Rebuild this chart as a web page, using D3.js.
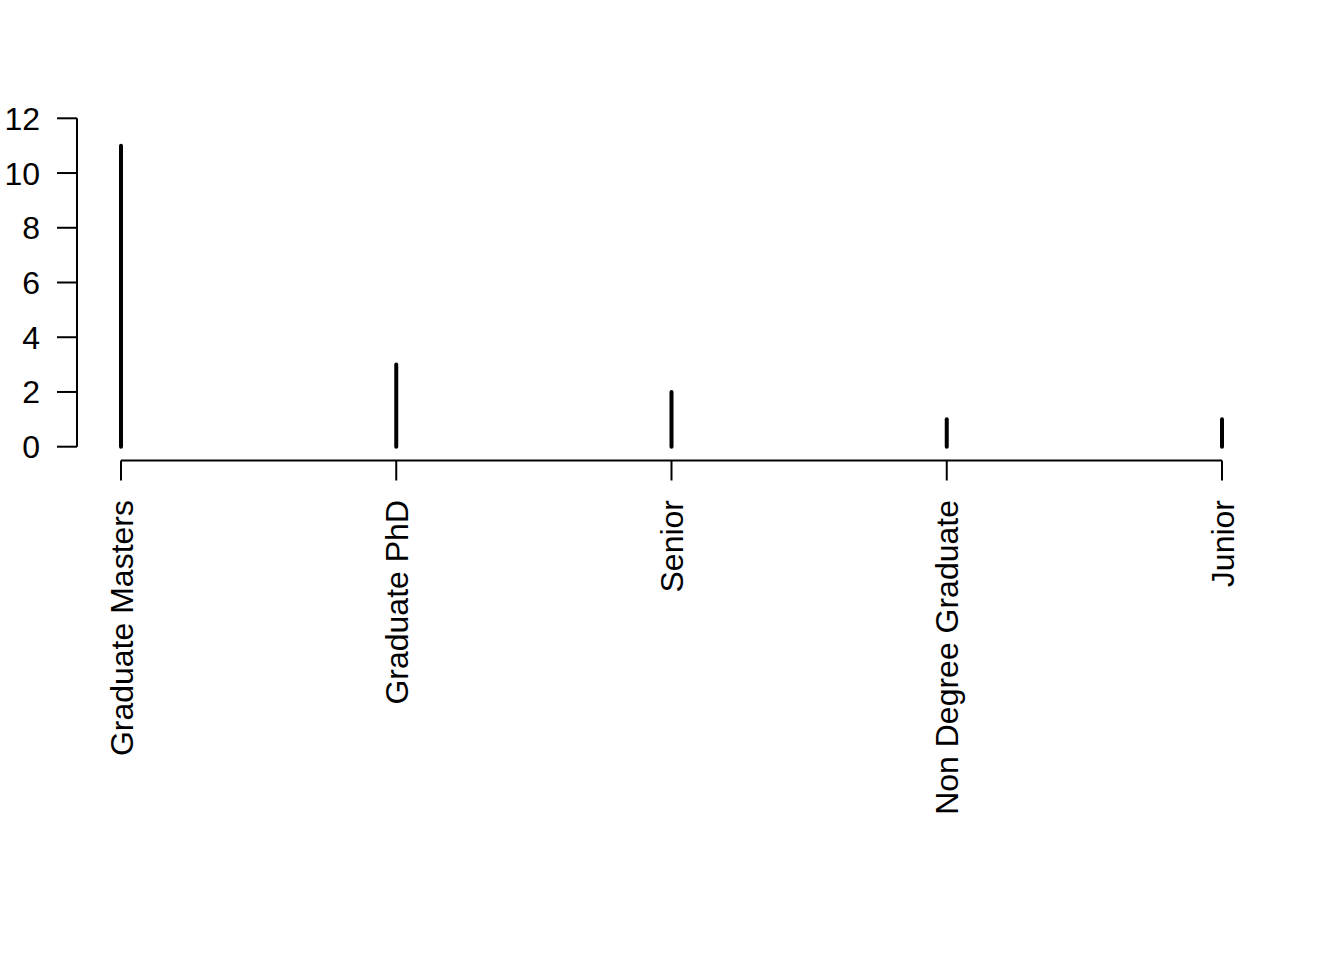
<!DOCTYPE html>
<html>
<head>
<meta charset="utf-8">
<script src="https://cdn.jsdelivr.net/npm/d3@7"></script>
<style>
  html, body { margin: 0; padding: 0; background: #fff; }
  svg { display: block; }
  text { font-family: "Liberation Sans", Arial, sans-serif; fill: #000; }
</style>
</head>
<body>
<script>
const categories = ["Graduate Masters", "Graduate PhD", "Senior", "Non Degree Graduate", "Junior"];
const counts = [11, 3, 2, 1, 1];
const yTicks = [0, 2, 4, 6, 8, 10, 12];

const W = 1344, H = 960;
const fontSize = 32;
const tickLen = 20;

const svg = d3.select("body").append("svg").attr("width", W).attr("height", H);

const x = d3.scalePoint().domain(categories).range([121, 1222]);
const y = d3.scaleLinear().domain([0, 12]).range([446.7, 118.3]);

// y axis
const yAxisX = 77;
const yg = svg.append("g");
yg.append("line")
  .attr("x1", yAxisX).attr("x2", yAxisX)
  .attr("y1", y(0)).attr("y2", y(12))
  .attr("stroke", "#000").attr("stroke-width", 2);
yg.selectAll("line.tick").data(yTicks).enter().append("line")
  .attr("class", "tick")
  .attr("x1", yAxisX - tickLen).attr("x2", yAxisX)
  .attr("y1", d => y(d)).attr("y2", d => y(d))
  .attr("stroke", "#000").attr("stroke-width", 2);
yg.selectAll("text").data(yTicks).enter().append("text")
  .attr("x", 40).attr("y", d => y(d))
  .attr("dy", "0.36em")
  .attr("text-anchor", "end")
  .attr("font-size", fontSize)
  .text(d => d);

// x axis
const xAxisY = 460.5;
const xg = svg.append("g");
xg.append("line")
  .attr("x1", x(categories[0])).attr("x2", x(categories[categories.length - 1]))
  .attr("y1", xAxisY).attr("y2", xAxisY)
  .attr("stroke", "#000").attr("stroke-width", 2);
xg.selectAll("line.tick").data(categories).enter().append("line")
  .attr("class", "tick")
  .attr("x1", d => x(d)).attr("x2", d => x(d))
  .attr("y1", xAxisY).attr("y2", xAxisY + tickLen)
  .attr("stroke", "#000").attr("stroke-width", 2);
xg.selectAll("text").data(categories).enter().append("text")
  .attr("transform", d => `translate(${x(d)},500) rotate(-90)`)
  .attr("dy", "0.36em")
  .attr("text-anchor", "end")
  .attr("font-size", fontSize)
  .text(d => d);

// histogram-like vertical lines (type = "h")
svg.append("g").selectAll("line").data(categories).enter().append("line")
  .attr("x1", d => x(d)).attr("x2", d => x(d))
  .attr("y1", y(0)).attr("y2", (d, i) => y(counts[i]))
  .attr("stroke", "#000").attr("stroke-width", 4)
  .attr("stroke-linecap", "round");
</script>
</body>
</html>
